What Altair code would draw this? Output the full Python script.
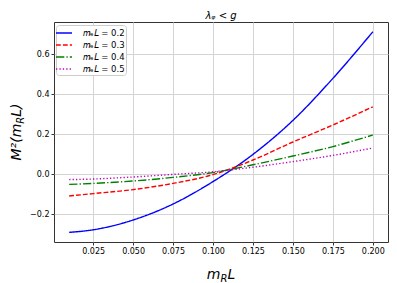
import altair as alt
import pandas as pd

# data
x_vals = [0.01, 0.025, 0.05, 0.075, 0.1, 0.125, 0.15, 0.175, 0.2]
m02 = [-0.292, -0.279, -0.230, -0.150, -0.038, 0.098, 0.268, 0.478, 0.711]
m03 = [-0.110, -0.098, -0.078, -0.047, -0.003, 0.070, 0.160, 0.245, 0.336]
m04 = [-0.052, -0.047, -0.035, -0.017, 0.007, 0.046, 0.090, 0.137, 0.195]
m05 = [-0.028, -0.025, -0.015, -0.002, 0.011, 0.034, 0.062, 0.093, 0.130]
labels = ["𝑚ₑ𝐿 = 0.2", "𝑚ₑ𝐿 = 0.3", "𝑚ₑ𝐿 = 0.4", "𝑚ₑ𝐿 = 0.5"]
colors = ["#0000ff", "#ff0000", "#008000", "#bf00bf"]
dashes = [[1, 0], [4.8, 2.1], [8.3, 2.1, 1.3, 2.1], [1.3, 2.1]]
x_ticks = [0.025, 0.05, 0.075, 0.1, 0.125, 0.15, 0.175, 0.2]
y_ticks = [-0.2, 0.0, 0.2, 0.4, 0.6]

rows = []
for lab, ys in zip(labels, [m02, m03, m04, m05]):
    for xv, yv in zip(x_vals, ys):
        rows.append({"x": xv, "y": yv, "series": lab})
df = pd.DataFrame(rows)

W, H = 334, 220
FONT = "DejaVu Sans"

leg = alt.Legend(title=None, orient="none", legendX=2, legendY=3)

lines = alt.Chart(df).mark_line(strokeWidth=1.4, interpolate="monotone").encode(
    x=alt.X("x:Q", scale=alt.Scale(domain=[0.0005, 0.2095], nice=False, zero=False),
            axis=alt.Axis(values=x_ticks, format=".3f", title=None)),
    y=alt.Y("y:Q", scale=alt.Scale(domain=[-0.34, 0.76], nice=False, zero=False),
            axis=alt.Axis(values=y_ticks, format=".1f", title=None)),
    color=alt.Color("series:N", scale=alt.Scale(domain=labels, range=colors), legend=leg),
    strokeDash=alt.StrokeDash("series:N", scale=alt.Scale(domain=labels, range=dashes), legend=leg),
)

one = pd.DataFrame({"a": [0]})
txt = dict(font=FONT, fontStyle="italic", baseline="alphabetic", color="black")

# title  lambda_phi < g
title = alt.Chart(one).mark_text(text="λᵩ < g", align="center", fontSize=10, **txt).encode(
    x=alt.value(167), y=alt.value(-3.5))

# x-axis title  m_R L
xt1 = alt.Chart(one).mark_text(text="m", align="left", fontSize=14, **txt).encode(
    x=alt.value(152.8), y=alt.value(257))
xt2 = alt.Chart(one).mark_text(text="R", align="left", fontSize=10, **txt).encode(
    x=alt.value(166.4), y=alt.value(260))
xt3 = alt.Chart(one).mark_text(text="L", align="left", fontSize=14, **txt).encode(
    x=alt.value(173.4), y=alt.value(257))

# y-axis title  M^2(m_R L)
yt1 = alt.Chart(one).mark_text(text="M²(m", align="right", angle=270, fontSize=14, **txt).encode(
    x=alt.value(-33), y=alt.value(101.7))
yt2 = alt.Chart(one).mark_text(text="R", align="left", angle=270, fontSize=10, **txt).encode(
    x=alt.value(-30), y=alt.value(101.7))
yt3 = alt.Chart(one).mark_text(text="L)", align="left", angle=270, fontSize=14, **txt).encode(
    x=alt.value(-33), y=alt.value(94.7))

chart = alt.layer(lines, title, xt1, xt2, xt3, yt1, yt2, yt3).properties(
    width=W, height=H,
    autosize=alt.AutoSizeParams(type="none"),
    padding={"left": 46, "top": 14, "right": 1, "bottom": 41},
).configure_view(
    stroke="#333333", strokeWidth=1
).configure_axis(
    domain=False, grid=True, gridColor="#d4d4d4", gridWidth=1,
    tickColor="#333333", tickSize=3, tickWidth=1,
    labelFont=FONT, labelFontSize=8, labelColor="black", labelPadding=2,
).configure_legend(
    symbolType="M-1.33,0H1.33", symbolSize=144, symbolStrokeWidth=1.4,
    labelFont=FONT, labelFontSize=8.5, labelColor="black", labelOffset=12,
    fillColor="white", strokeColor="#cccccc", cornerRadius=3, padding=1,
    rowPadding=0,
)

chart.save("out.html", embed_options={"renderer": "svg", "actions": False})
